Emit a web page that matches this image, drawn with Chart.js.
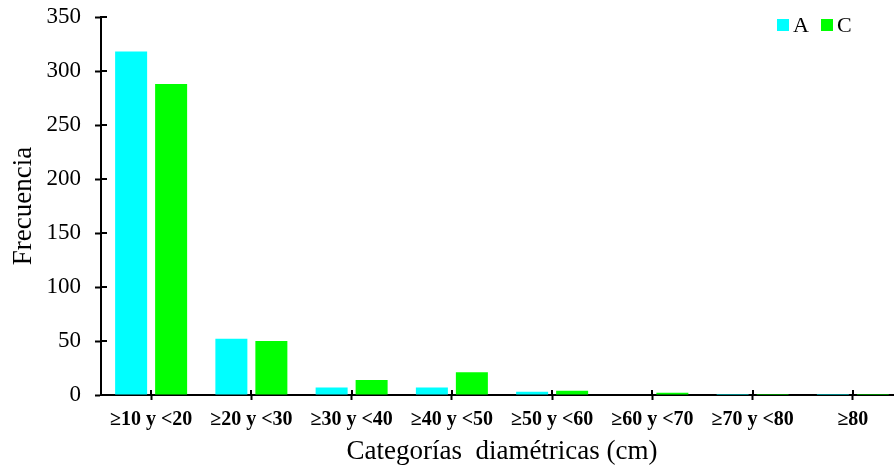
<!DOCTYPE html>
<html>
<head>
<meta charset="utf-8">
<script src="https://cdn.jsdelivr.net/npm/chart.js@4/dist/chart.umd.min.js"></script>
<style>
  html, body { margin: 0; padding: 0; background: #fff; overflow: hidden; }
  #wrap { width: 894px; height: 474px; overflow: hidden; position: relative; }
  canvas { display: block; }
</style>
</head>
<body>
<div id="wrap"><canvas id="c" width="903" height="474"></canvas></div>
<script>
const categories = ['≥10 y <20', '≥20 y <30', '≥30 y <40', '≥40 y <50', '≥50 y <60', '≥60 y <70', '≥70 y <80', '≥80'];
const seriesA = [318, 52, 7, 7, 3, 0, 1, 1];
const seriesC = [288, 50, 14, 21, 4, 2, 1, 1];
const yTicks = [0, 50, 100, 150, 200, 250, 300, 350];
const seriesNames = ['A', 'C'];
const colors = ['#00FFFF', '#00FF00'];

const SERIF = "'Liberation Serif', 'Times New Roman', serif";

const crossTicks = {
  id: 'crossTicks',
  afterDraw(chart) {
    const ctx = chart.ctx;
    const x = chart.scales.x, y = chart.scales.y;
    ctx.save();
    ctx.strokeStyle = '#000';
    ctx.lineWidth = 2;
    ctx.beginPath();
    y.ticks.forEach(t => {
      const py = Math.round(y.getPixelForValue(t.value));
      ctx.moveTo(x.left, py); ctx.lineTo(x.left + 6, py);
    });
    x.ticks.forEach((t, i) => {
      const px = Math.round(x.getPixelForTick(i));
      ctx.moveTo(px, y.bottom); ctx.lineTo(px, y.bottom - 5);
    });
    ctx.stroke();
    ctx.restore();
  }
};

const boxLegend = {
  id: 'boxLegend',
  afterDraw(chart) {
    const ctx = chart.ctx;
    ctx.save();
    ctx.font = '22px ' + SERIF;
    ctx.textBaseline = 'alphabetic';
    const xs = [777, 821];
    chart.data.datasets.forEach((ds, i) => {
      ctx.fillStyle = ds.backgroundColor;
      ctx.fillRect(xs[i], 19, 12, 12);
      ctx.fillStyle = '#000';
      ctx.fillText(ds.label, xs[i] + 16, 32);
    });
    ctx.restore();
  }
};

new Chart(document.getElementById('c'), {
  type: 'bar',
  data: {
    labels: categories,
    datasets: [
      { label: seriesNames[0], data: seriesA, backgroundColor: colors[0], borderWidth: 0 },
      { label: seriesNames[1], data: seriesC, backgroundColor: colors[1], borderWidth: 0 }
    ]
  },
  options: {
    responsive: false,
    animation: false,
    devicePixelRatio: 1,
    categoryPercentage: 0.798,
    barPercentage: 0.8,
    layout: { padding: { top: 0, left: 0, right: 0, bottom: 0 } },
    plugins: { legend: { display: false }, tooltip: { enabled: false } },
    scales: {
      x: {
        offset: true,
        grid: { offset: false, drawOnChartArea: false, tickLength: 5, tickWidth: 2, tickColor: '#000' },
        border: { color: '#000', width: 2 },
        ticks: { color: '#000', padding: 8, maxRotation: 0, autoSkip: false,
                 font: { family: SERIF, size: 20, weight: 'bold' } },
        title: { display: true, text: 'Categorías  diamétricas (cm)', color: '#000',
                 font: { family: SERIF, size: 27 }, padding: { top: 0, bottom: 6 } },
        afterFit(s) { s.height = 79; s.paddingLeft = 0; s.paddingRight = 0; }
      },
      y: {
        min: 0, max: 350,
        afterBuildTicks(s) { s.ticks = yTicks.map(v => ({ value: v })); },
        grid: { drawOnChartArea: false, tickLength: 6, tickWidth: 2, tickColor: '#000' },
        border: { color: '#000', width: 2 },
        ticks: { color: '#000', padding: 14, font: { family: SERIF, size: 23 } },
        title: { display: true, text: 'Frecuencia', color: '#000',
                 font: { family: SERIF, size: 27 }, padding: { top: 8, bottom: 0 } },
        afterFit(s) { s.width = 101; s.paddingTop = 17; s.paddingBottom = 0; }
      }
    }
  },
  plugins: [crossTicks, boxLegend]
});
</script>
</body>
</html>
